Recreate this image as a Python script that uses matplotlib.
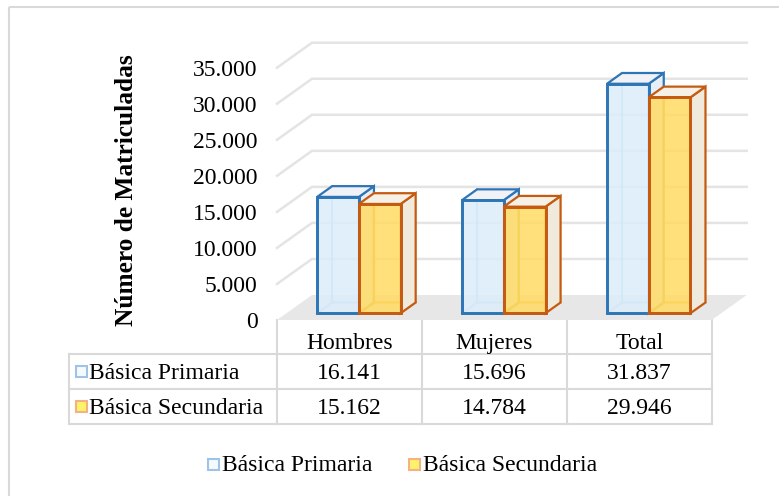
import numpy as np
import matplotlib.pyplot as plt
from matplotlib.patches import Polygon, Rectangle
from matplotlib.ticker import FuncFormatter

# datos
categorias = ["Hombres", "Mujeres", "Total"]
series = ["Básica Primaria", "Básica Secundaria"]
primaria = [16141, 15696, 31837]
secundaria = [15162, 14784, 29946]
yticks = [0, 5000, 10000, 15000, 20000, 25000, 30000, 35000]

plt.rcParams['font.family'] = ['Liberation Serif', 'DejaVu Serif']

W, H = 779, 496
fig = plt.figure(figsize=(W / 100, H / 100), dpi=100)

# capa de maquetación en pixeles (borde, tabla, leyenda)
lay = fig.add_axes([0, 0, 1, 1], zorder=0)
lay.set_xlim(0, W)
lay.set_ylim(H, 0)
lay.axis("off")

# plano frontal del gráfico
x0px, x1px = 277, 711.7
y0px, y1px = 320, 67.7
ax = fig.add_axes([x0px / W, 1 - y0px / H, (x1px - x0px) / W, (y0px - y1px) / H], zorder=1)
ax.set_xlim(0, 3)
ax.set_ylim(0, 35000)
ax.patch.set_visible(False)
for s in ax.spines.values():
    s.set_visible(False)

# desplazamiento de profundidad (35 px a la derecha, 25 px hacia arriba)
DX = 35 / ((x1px - x0px) / 3)
DY = 25 / ((y0px - y1px) / 35000)


def p(x, v, d):
    return (x + d * DX, v + d * DY)


grid_c = "#e4e4e4"
# suelo
ax.add_patch(Polygon([p(0, 0, 0), p(3, 0, 0), p(3, 0, 1), p(0, 0, 1)],
                     closed=True, fc="#e7e7e7", ec="none", clip_on=False, zorder=1))
# lineas de la cuadricula (pared posterior y lateral)
for v in yticks[1:]:
    a, b = p(0, v, 0), p(0, v, 1)
    c = p(3, v, 1)
    ax.plot([a[0], b[0], c[0]], [a[1], b[1], c[1]], color=grid_c, lw=1.8,
            clip_on=False, zorder=1, solid_joinstyle="miter")

d0, d1 = 0.27, 0.70
w = 0.288
off = 0.212

estilos = [
    dict(front="#dcedfb", edge="#2e75b6", inner="#9cc8ec", top="#f1f2f6", side="#e6eef6"),
    dict(front="#ffdb63", edge="#c55a11", inner="#f7a51c", top="#f6f1e6", side="#efeadc"),
]


def caja(xa, v, st, z):
    xb = xa + w
    # aristas interiores
    for pts in ([p(xa, 0, d1), p(xa, v, d1)], [p(xa, 0, d0), p(xa, 0, d1), p(xb, 0, d1)]):
        xs, ys = zip(*pts)
        ax.plot(xs, ys, color=st["inner"], lw=1.3, clip_on=False, zorder=z)
    # lado derecho
    ax.add_patch(Polygon([p(xb, 0, d0), p(xb, v, d0), p(xb, v, d1), p(xb, 0, d1)],
                         closed=True, fc=st["side"], ec=st["edge"], lw=1.6,
                         clip_on=False, zorder=z, joinstyle="miter"))
    # tapa
    ax.add_patch(Polygon([p(xa, v, d0), p(xb, v, d0), p(xb, v, d1), p(xa, v, d1)],
                         closed=True, fc=st["top"], ec=st["edge"], lw=1.6,
                         clip_on=False, zorder=z, joinstyle="miter"))
    # cara frontal
    ax.add_patch(Polygon([p(xa, 0, d0), p(xb, 0, d0), p(xb, v, d0), p(xa, v, d0)],
                         closed=True, fc=st["front"], ec=st["edge"], lw=2.0, alpha=0.85,
                         clip_on=False, zorder=z + 0.5, joinstyle="miter"))
    ax.add_patch(Polygon([p(xa, 0, d0), p(xb, 0, d0), p(xb, v, d0), p(xa, v, d0)],
                         closed=True, fc="none", ec=st["edge"], lw=2.0,
                         clip_on=False, zorder=z + 0.6, joinstyle="miter"))


for i in range(len(categorias)):
    caja(i + off, primaria[i], estilos[0], 2)
    caja(i + off + w, secundaria[i], estilos[1], 3)

ax.set_yticks(yticks)
ax.yaxis.set_major_formatter(FuncFormatter(lambda v, _: f"{int(v):,}".replace(",", ".")))
ax.tick_params(axis="y", length=0, pad=14, labelsize=17)
ax.set_xticks([])
ax.set_ylabel("Número de Matriculadas", fontsize=18.3, fontweight="bold")
ax.yaxis.set_label_coords(-0.32, 0.515)

# borde exterior
lay.add_patch(Rectangle((9.5, 6.5), 900, 700, fc="none", ec="#d9d9d9", lw=1.5))

# tabla de datos
tc = "#d9d9d9"
cols = [277, 421.9, 566.8, 711.7]
filas = [320, 354, 389, 424]
base = [349, 379, 414]
tleft = 69
for x in cols:
    lay.plot([x, x], [filas[0], filas[-1]], color=tc, lw=1.5)
lay.plot([tleft, tleft], [filas[1], filas[-1]], color=tc, lw=1.5)
for y in filas[1:]:
    lay.plot([tleft, cols[-1]], [y, y], color=tc, lw=1.5)

fs = 17
for j, cat in enumerate(categorias):
    cx = (cols[j] + cols[j + 1]) / 2
    lay.text(cx, base[0], cat, ha="center", va="baseline", fontsize=fs)
    lay.text(cx, base[1], f"{primaria[j]:,}".replace(",", "."),
             ha="center", va="baseline", fontsize=fs)
    lay.text(cx, base[2], f"{secundaria[j]:,}".replace(",", "."),
             ha="center", va="baseline", fontsize=fs)

claves = [dict(fc="#f6fafe", ec="#9dc3e6"), dict(fc="#fdf36a", ec="#f4b183")]
for k, nombre in enumerate(series):
    yc = (filas[k + 1] + filas[k + 2]) / 2
    lay.add_patch(Rectangle((76, yc - 5.5), 11, 11, lw=1.5, **claves[k]))
    lay.text(89, base[k + 1], nombre, ha="left", va="baseline", fontsize=fs)

# leyenda inferior
ly = 464
for xk, nombre, cl in zip([208, 409], series, claves):
    lay.add_patch(Rectangle((xk, ly - 5.5), 11, 11, lw=1.5, **cl))
    lay.text(xk + 14, ly + 7, nombre, ha="left", va="baseline", fontsize=fs)

fig.savefig("out.png", dpi=100)
